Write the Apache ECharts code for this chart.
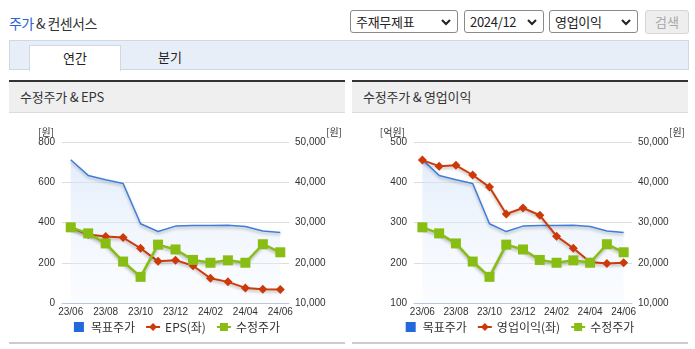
<!DOCTYPE html>
<html>
<head>
<meta charset="utf-8">
<script src="https://cdn.jsdelivr.net/npm/echarts@6/dist/echarts.min.js"></script>
<style>
  html, body { margin: 0; padding: 0; background: #fff; }
  body { width: 695px; height: 349px; position: relative; overflow: hidden;
         font-family: "Noto Sans CJK KR", "Noto Sans", sans-serif; color: #333; }
  .title { position: absolute; left: 9px; top: 13px; font-size: 14px; line-height: 20px; color: #333; letter-spacing: -0.6px; }
  .title b { font-weight: normal; color: #2a62d8; }
  .sel { position: absolute; top: 10px; height: 21px; border: 1px solid #8a8a8a; border-radius: 3px; background: #fff;
         font-size: 13px; line-height: 21px; padding-left: 5px; box-sizing: content-box; color: #222; letter-spacing: -0.3px; }
  .sel svg { position: absolute; right: 6px; top: 7px; }
  .btn { position: absolute; left: 645px; top: 10px; width: 42px; height: 22px; border: 1px solid #d6d6d6; border-radius: 3px;
         background: #eeeeee; color: #a9a9a9; font-size: 13px; line-height: 22px; text-align: center; }
  .tabs { position: absolute; left: 9px; top: 40px; width: 678px; height: 28px; background: #e8eef8; border: 1px solid #cfd8e7; }
  .tab { position: absolute; top: 4px; height: 25px; font-size: 13px; line-height: 24px; text-align: center; color: #222; }
  .tab.on { left: 19px; width: 90px; background: #fff; border: 1px solid #cfd8e7; border-bottom: none; }
  .tab.off { left: 110px; width: 100px; }
  .panel { position: absolute; top: 80px; width: 336px; height: 264px; border-top: 2px solid #333; }
  .panel .hd { height: 30px; background: #efefef; border-bottom: 1px solid #dcdcdc; font-size: 13px; line-height: 30px;
               padding-left: 11px; color: #333; letter-spacing: -0.2px; }
  .panel .ft { position: absolute; left: 0; top: 260px; width: 336px; height: 2px; background: #cccccc; }
  .chart { position: absolute; left: 0; top: 31px; width: 336px; height: 229px; }
</style>
</head>
<body>
  <div class="title"><b>주가</b> &amp; 컨센서스</div>

  <div class="sel" style="left:350px;width:101px;">주재무제표<svg width="10" height="8" viewBox="0 0 10 8"><polyline points="1,2 5,6 9,2" fill="none" stroke="#222" stroke-width="2"/></svg></div>
  <div class="sel" style="left:464px;width:73px;">2024/12<svg width="10" height="8" viewBox="0 0 10 8"><polyline points="1,2 5,6 9,2" fill="none" stroke="#222" stroke-width="2"/></svg></div>
  <div class="sel" style="left:549px;width:82px;">영업이익<svg width="10" height="8" viewBox="0 0 10 8"><polyline points="1,2 5,6 9,2" fill="none" stroke="#222" stroke-width="2"/></svg></div>
  <div class="btn">검색</div>

  <div class="tabs">
    <div class="tab on">연간</div>
    <div class="tab off">분기</div>
  </div>

  <div class="panel" style="left:9px;">
    <div class="hd">수정주가 &amp; EPS</div>
    <div class="chart" id="chartEps"></div>
    <div class="ft"></div>
  </div>
  <div class="panel" style="left:352px;">
    <div class="hd">수정주가 &amp; 영업이익</div>
    <div class="chart" id="chartOp"></div>
    <div class="ft"></div>
  </div>

<script>
// Monthly categories
const months = ['23/06', '23/07', '23/08', '23/09', '23/10', '23/11', '23/12',
                '24/01', '24/02', '24/03', '24/04', '24/05', '24/06'];

// 목표주가 (원)
const targetPrice = [45600, 41700, 40600, 39700, 29700, 27750, 29100,
                     29250, 29250, 29300, 29000, 27900, 27500];

// 수정주가 (원)
const adjPrice = [28800, 27300, 24800, 20300, 16500, 24500, 23300,
                  20700, 20000, 20600, 20000, 24600, 22600];

// EPS (원)
const eps = [375, 340, 330, 325, 272, 207, 213, 185, 123, 105, 75, 68, 67];

// 영업이익 (억원)
const opProfit = [455, 440, 442, 418, 388, 321, 336, 318, 266, 236, 202, 198, 200];

// Left-axis ranges
const epsAxis = { min: 0, max: 800, interval: 200 };
const opAxis = { min: 100, max: 500, interval: 100 };
const priceAxis = { min: 10000, max: 50000, interval: 10000 };

const numFont = '"Liberation Sans Narrow", "Liberation Sans", Arial, sans-serif';
const krFont = '"Noto Sans CJK KR", "Noto Sans", sans-serif';
const axisColor = '#bcc7d9';

function buildOption(cfg) {
  const lineShadow = { shadowColor: 'rgba(0,0,0,0.28)', shadowBlur: 3, shadowOffsetY: 2 };
  return {
    animation: false,
    textStyle: { fontFamily: krFont },
    grid: { left: cfg.gridLeft, right: cfg.gridRight, top: 29, bottom: 39 },
    legend: {
      bottom: 4,
      left: 'center',
      itemWidth: 14,
      itemHeight: 10,
      itemGap: 10,
      textStyle: { fontSize: 12, color: '#333', fontFamily: krFont },
      data: [
        { name: '목표주가', icon: 'path://M0,0h10v10h-10z', itemStyle: { color: '#2368dc' } },
        { name: cfg.barName },
        { name: '수정주가' }
      ]
    },
    xAxis: {
      type: 'category',
      data: months,
      boundaryGap: true,
      axisLine: { lineStyle: { color: axisColor, width: 1 } },
      axisTick: { interval: (i) => i === 0 || i % 2 === 1, length: 4, lineStyle: { color: axisColor } },
      axisLabel: { interval: 1, fontSize: 10, color: '#333', margin: 4, fontFamily: numFont }
    },
    yAxis: [
      {
        type: 'value',
        min: cfg.leftAxis.min, max: cfg.leftAxis.max, interval: cfg.leftAxis.interval,
        name: cfg.leftUnit,
        nameGap: 5,
        nameTextStyle: { align: 'right', padding: [0, cfg.leftNamePad, 0, 0], fontSize: 10, color: '#333', fontFamily: krFont },
        axisLine: { show: false },
        axisTick: { show: false },
        axisLabel: { fontSize: 10, color: '#333', margin: 7, fontFamily: numFont },
        splitLine: { lineStyle: { color: '#dddddd', width: 1 } }
      },
      {
        type: 'value',
        position: 'right',
        min: priceAxis.min, max: priceAxis.max, interval: priceAxis.interval,
        name: '[원]',
        nameGap: 5,
        nameTextStyle: { align: 'left', padding: [0, 0, 0, 37], fontSize: 10, color: '#333', fontFamily: krFont },
        axisLine: { show: false },
        axisTick: { show: false },
        axisLabel: { fontSize: 10, color: '#333', margin: 6, fontFamily: numFont,
                     formatter: (v) => v.toLocaleString('en-US') },
        splitLine: { show: false }
      }
    ],
    series: [
      {
        name: '목표주가',
        type: 'line',
        yAxisIndex: 1,
        data: targetPrice,
        showSymbol: false,
        symbol: 'none',
        itemStyle: { color: '#2368dc' },
        lineStyle: Object.assign({ color: '#3f7ddb', width: 1.5 }, lineShadow),
        areaStyle: {
          color: new echarts.graphic.LinearGradient(0, 0, 0, 1, [
            { offset: 0, color: 'rgba(208,226,248,0.85)' },
            { offset: 1, color: 'rgba(240,246,254,0.4)' }
          ])
        },
        z: 1
      },
      {
        name: cfg.barName,
        type: 'line',
        yAxisIndex: 0,
        data: cfg.values,
        symbol: 'diamond',
        symbolSize: 9,
        itemStyle: { color: '#cc3a0a' },
        lineStyle: Object.assign({ color: '#cc3a0a', width: 2 }, lineShadow),
        z: 3
      },
      {
        name: '수정주가',
        type: 'line',
        yAxisIndex: 1,
        data: adjPrice,
        symbol: 'rect',
        symbolSize: 10,
        itemStyle: { color: '#88bd14' },
        lineStyle: Object.assign({ color: '#88bd14', width: 2.5 }, lineShadow),
        z: 4
      }
    ]
  };
}

const epsChart = echarts.init(document.getElementById('chartEps'), null, { renderer: 'canvas' });
epsChart.setOption(buildOption({
  gridLeft: 53, gridRight: 53,
  leftAxis: epsAxis, leftUnit: '[원]', leftNamePad: 8,
  barName: 'EPS(좌)', values: eps
}));

const opChart = echarts.init(document.getElementById('chartOp'), null, { renderer: 'canvas' });
opChart.setOption(buildOption({
  gridLeft: 62, gridRight: 54,
  leftAxis: opAxis, leftUnit: '[억원]', leftNamePad: 9,
  barName: '영업이익(좌)', values: opProfit
}));
</script>
</body>
</html>
